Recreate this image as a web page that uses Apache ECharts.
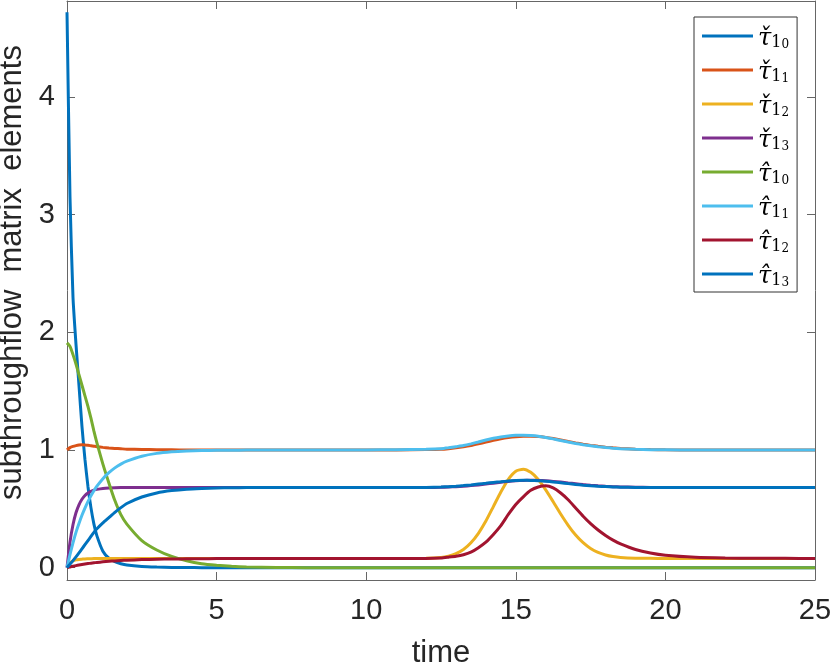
<!DOCTYPE html>
<html>
<head>
<meta charset="utf-8">
<title>subthroughflow matrix elements</title>
<script src="https://cdn.jsdelivr.net/npm/echarts@6/dist/echarts.min.js"></script>
<style>
html, body { margin: 0; padding: 0; background: #fff; }
#chart { width: 830px; height: 665px; }
</style>
</head>
<body>
<div id="chart"></div>
<script>
// time samples (denser where the curves move)
var time = [0, 0.1, 0.2, 0.3, 0.4, 0.5, 0.6, 0.7, 0.8, 0.9, 1,
  1.2, 1.4, 1.6, 1.8, 2, 2.5, 3, 3.5, 4, 4.5, 5, 5.5, 6,
  7, 8, 9, 10, 11, 12,
  12.5, 12.75, 13, 13.25, 13.5, 13.75, 14, 14.25, 14.5, 14.75, 15, 15.25, 15.5,
  15.75, 16, 16.25, 16.5, 16.75, 17, 17.25, 17.5, 17.75, 18, 18.25, 18.5,
  19, 19.5, 20, 21, 22, 23, 24, 25];

// check-tau 1_0 .. 1_3
var tauC0 = [4.72, 3.15, 2.3, 1.9, 1.55, 1.2, 0.92, 0.69, 0.51, 0.37, 0.27,
  0.14, 0.08, 0.05, 0.033, 0.022, 0.01, 0.005, 0.002, 0.001, 0, 0, 0, 0,
  0, 0, 0, 0, 0, 0,
  0, 0, 0, 0, 0, 0, 0, 0, 0, 0, 0, 0, 0, 0, 0, 0, 0, 0, 0, 0, 0, 0, 0, 0, 0,
  0, 0, 0, 0, 0, 0, 0, 0];
var tauC1 = [1.0, 1.02, 1.03, 1.037, 1.042, 1.044, 1.043, 1.04, 1.036, 1.032, 1.028,
  1.022, 1.017, 1.013, 1.01, 1.007, 1.004, 1.002, 1.001, 1.0, 1.0, 1.0, 1.0, 1.0,
  1.0, 1.0, 1.0, 1.0, 1.0, 1.003,
  1.006, 1.011, 1.018, 1.027, 1.038, 1.052, 1.067, 1.082, 1.095, 1.105, 1.112, 1.116, 1.117,
  1.114, 1.107, 1.097, 1.085, 1.072, 1.06, 1.049, 1.039, 1.031, 1.024, 1.018, 1.013,
  1.007, 1.003, 1.001, 1.0, 1.0, 1.0, 1.0, 1.0];
var tauC2 = [0, 0.04, 0.058, 0.066, 0.07, 0.072, 0.074, 0.075, 0.076, 0.077, 0.077,
  0.078, 0.078, 0.078, 0.078, 0.078, 0.078, 0.078, 0.078, 0.078, 0.078, 0.078, 0.078, 0.078,
  0.078, 0.078, 0.078, 0.078, 0.078, 0.08,
  0.087, 0.098, 0.119, 0.154, 0.211, 0.292, 0.396, 0.519, 0.643, 0.751, 0.82, 0.837, 0.81,
  0.749, 0.661, 0.56, 0.456, 0.36, 0.277, 0.212, 0.163, 0.13, 0.108, 0.094, 0.086,
  0.08, 0.079, 0.078, 0.078, 0.078, 0.078, 0.078, 0.078];
var tauC3 = [0, 0.217, 0.365, 0.466, 0.534, 0.581, 0.613, 0.634, 0.648, 0.659, 0.665,
  0.673, 0.677, 0.679, 0.68, 0.68, 0.68, 0.68, 0.68, 0.68, 0.68, 0.68, 0.68, 0.68,
  0.68, 0.68, 0.68, 0.68, 0.68, 0.681,
  0.683, 0.685, 0.688, 0.692, 0.697, 0.703, 0.71, 0.718, 0.726, 0.733, 0.738, 0.741, 0.742,
  0.741, 0.738, 0.733, 0.727, 0.72, 0.713, 0.706, 0.7, 0.695, 0.691, 0.688, 0.686,
  0.683, 0.682, 0.681, 0.68, 0.68, 0.68, 0.68, 0.68];

// hat-tau 1_0 .. 1_3
var tauH0 = [1.91, 1.88, 1.81, 1.73, 1.64, 1.55, 1.46, 1.37, 1.27, 1.16, 1.06,
  0.88, 0.72, 0.57, 0.45, 0.37, 0.23, 0.15, 0.095, 0.058, 0.033, 0.02, 0.011, 0.006,
  0.002, 0, 0, 0, 0, 0,
  0, 0, 0, 0, 0, 0, 0, 0, 0, 0, 0, 0, 0, 0, 0, 0, 0, 0, 0, 0, 0, 0, 0, 0, 0,
  0, 0, 0, 0, 0, 0, 0, 0];
var tauH1 = [0, 0.111, 0.21, 0.30, 0.375, 0.445, 0.506, 0.561, 0.61, 0.653, 0.692,
  0.756, 0.807, 0.848, 0.88, 0.905, 0.947, 0.971, 0.984, 0.991, 0.995, 0.997, 0.998, 0.999,
  1.0, 1.0, 1.0, 1.0, 1.002, 1.005,
  1.01, 1.018, 1.028, 1.038, 1.052, 1.068, 1.085, 1.1, 1.111, 1.119, 1.124, 1.125, 1.122,
  1.116, 1.106, 1.094, 1.08, 1.067, 1.055, 1.045, 1.036, 1.028, 1.021, 1.015, 1.011,
  1.005, 1.002, 1.001, 1.0, 1.0, 1.0, 1.0, 1.0];
var tauH2 = [0, 0.0062, 0.012, 0.0173, 0.022, 0.0266, 0.0307, 0.0345, 0.038, 0.0412, 0.0441,
  0.0493, 0.0538, 0.0574, 0.0606, 0.0632, 0.0682, 0.0717, 0.0737, 0.0752, 0.0761, 0.0768, 0.0772, 0.0775,
  0.0778, 0.078, 0.078, 0.078, 0.078, 0.078,
  0.082, 0.089, 0.097, 0.11, 0.132, 0.17, 0.217, 0.282, 0.357, 0.452, 0.537, 0.602, 0.657,
  0.685, 0.695, 0.677, 0.634, 0.577, 0.507, 0.437, 0.374, 0.32, 0.274, 0.234, 0.202,
  0.154, 0.124, 0.105, 0.088, 0.082, 0.08, 0.079, 0.078];
var tauH3 = [0, 0.03, 0.06, 0.092, 0.125, 0.16, 0.195, 0.23, 0.265, 0.30, 0.33,
  0.38, 0.425, 0.47, 0.51, 0.545, 0.60, 0.635, 0.655, 0.667, 0.673, 0.677, 0.679, 0.68,
  0.68, 0.68, 0.68, 0.68, 0.68, 0.682,
  0.685, 0.688, 0.692, 0.697, 0.703, 0.71, 0.717, 0.724, 0.73, 0.736, 0.74, 0.742, 0.741,
  0.738, 0.734, 0.728, 0.721, 0.714, 0.707, 0.701, 0.696, 0.692, 0.689, 0.686, 0.684,
  0.682, 0.681, 0.68, 0.68, 0.68, 0.68, 0.68, 0.68];

var names = ['\u03c4\u030c10', '\u03c4\u030c11', '\u03c4\u030c12', '\u03c4\u030c13',
             '\u03c4\u030210', '\u03c4\u030211', '\u03c4\u030212', '\u03c4\u030213'];
var values = [tauC0, tauC1, tauC2, tauC3, tauH0, tauH1, tauH2, tauH3];
// matlab default line colours
var colors = ['#0072BD', '#D95319', '#EDB120', '#7E2F8E', '#77AC30', '#4DBEEE', '#A2142F', '#0072BD'];

var xTicks = [0, 5, 10, 15, 20, 25];
var yTicks = [0, 1, 2, 3, 4];

var chart = echarts.init(document.getElementById('chart'));

var series = values.map(function (v, i) {
  return {
    name: names[i],
    type: 'line',
    data: time.map(function (t, k) { return [t, v[k]]; }),
    showSymbol: false,
    smooth: 0.2,
    lineStyle: { width: 3, color: colors[i] },
    itemStyle: { color: colors[i] },
    xAxisIndex: 0,
    yAxisIndex: 0
  };
});

var tickFont = { fontFamily: 'Liberation Sans', fontSize: 29, color: '#262626' };

var option = {
  animation: false,
  backgroundColor: '#fff',
  grid: { left: 67, right: 15, top: 1, bottom: 85, containLabel: false, outerBoundsMode: 'none' },
  legend: {
    orient: 'vertical',
    left: 694, top: 17,
    padding: [4, 8, 3, 8],
    itemGap: 4,
    itemWidth: 51, itemHeight: 3,
    icon: 'rect',
    backgroundColor: '#fff',
    borderColor: '#333',
    borderWidth: 1,
    data: names,
    formatter: function (n) {
      return '{t|' + n.slice(0, 2) + '}{s|' + n.charAt(2) + '}{ss|' + n.charAt(3) + '}';
    },
    textStyle: {
      color: '#000',
      fontSize: 24,
      lineHeight: 30,
      height: 30,
      rich: {
        t: { fontFamily: 'DejaVu Serif', fontStyle: 'italic', fontSize: 24, lineHeight: 30, verticalAlign: 'bottom', color: '#000' },
        s: { fontFamily: 'DejaVu Serif', fontSize: 16, lineHeight: 20, verticalAlign: 'bottom', color: '#000' },
        ss: { fontFamily: 'DejaVu Serif', fontSize: 12, lineHeight: 12, verticalAlign: 'bottom', color: '#000' }
      }
    }
  },
  xAxis: [{
    type: 'value', min: 0, max: 25, interval: 5,
    name: 'time', nameLocation: 'middle', nameGap: 58,
    nameTextStyle: { fontFamily: 'Liberation Sans', fontSize: 31, color: '#262626' },
    axisLine: { show: true, onZero: false, lineStyle: { color: '#666', width: 1 } },
    axisTick: { show: true, inside: true, length: 8, lineStyle: { color: '#666' } },
    axisLabel: Object.assign({ margin: 16 }, tickFont),
    splitLine: { show: false }
  }, {
    type: 'value', min: 0, max: 25, interval: 5, position: 'top',
    axisLine: { show: true, onZero: false, lineStyle: { color: '#666', width: 1 } },
    axisTick: { show: true, inside: true, length: 8, lineStyle: { color: '#666' } },
    axisLabel: { show: false },
    splitLine: { show: false }
  }],
  yAxis: [{
    type: 'value', min: -0.105, max: 4.815,
    name: 'subthroughflow  matrix  elements', nameLocation: 'middle', nameGap: 33,
    nameTextStyle: { fontFamily: 'Liberation Sans', fontSize: 31, color: '#262626', padding: [0, 0, 0, 36] },
    axisLine: { show: true, onZero: false, lineStyle: { color: '#666', width: 1 } },
    axisTick: { show: true, inside: true, length: 8, customValues: yTicks, lineStyle: { color: '#666' } },
    axisLabel: Object.assign({ margin: 12, customValues: yTicks }, tickFont),
    splitLine: { show: false }
  }, {
    type: 'value', min: -0.105, max: 4.815, position: 'right',
    axisLine: { show: true, onZero: false, lineStyle: { color: '#666', width: 1 } },
    axisTick: { show: true, inside: true, length: 8, customValues: yTicks, lineStyle: { color: '#666' } },
    axisLabel: { show: false },
    splitLine: { show: false }
  }],
  series: series
};
chart.setOption(option);
</script>
</body>
</html>
